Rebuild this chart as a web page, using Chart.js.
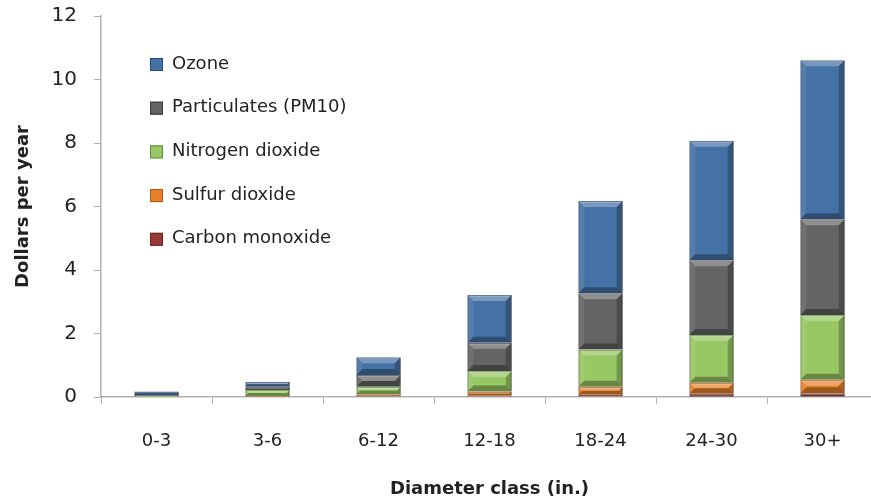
<!DOCTYPE html>
<html>
<head>
<meta charset="utf-8">
<script src="https://cdn.jsdelivr.net/npm/chart.js@4.4.0/dist/chart.umd.min.js"></script>
<style>
  body { margin: 0; background: #fff; overflow: hidden; }
  #wrap { width: 878px; height: 500px; }
</style>
</head>
<body>
<div id="wrap"><canvas id="myChart"></canvas></div>
<script>
// diameter classes on the x axis
const classes = ['0-3', '3-6', '6-12', '12-18', '18-24', '24-30', '30+'];

// dollars per year (bottom of stack first)
const carbonMonoxide = [0.0, 0.01, 0.02, 0.04, 0.07, 0.10, 0.12];
const sulfurDioxide = [0.01, 0.02, 0.07, 0.13, 0.25, 0.35, 0.42];
const nitrogenDioxide = [0.02, 0.19, 0.23, 0.65, 1.18, 1.50, 2.04];
const particulates = [0.03, 0.10, 0.37, 0.89, 1.77, 2.36, 3.02];
const ozone = [0.11, 0.16, 0.56, 1.50, 2.90, 3.76, 5.01];

const yTicks = [0, 2, 4, 6, 8, 10, 12];

const fontName = '"DejaVu Sans", sans-serif';

function mkSet(label, values, color, edge) {
    return {
        label: label,
        data: values,
        backgroundColor: color,
        borderColor: edge,
        borderWidth: 1.5,
        barPercentage: 0.4,
        categoryPercentage: 1.0
    };
}

const datasets = [
    mkSet('Carbon monoxide', carbonMonoxide, '#963a36', '#6b2522'),
    mkSet('Sulfur dioxide', sulfurDioxide, '#e8822a', '#a85a18'),
    mkSet('Nitrogen dioxide', nitrogenDioxide, '#98c863', '#5f8a36'),
    mkSet('Particulates (PM10)', particulates, '#646464', '#383838'),
    mkSet('Ozone', ozone, '#4572a6', '#284a72')
];

function quad(ctx, pts, style) {
    ctx.fillStyle = style;
    ctx.beginPath();
    ctx.moveTo(pts[0], pts[1]);
    for (let k = 2; k < pts.length; k += 2) ctx.lineTo(pts[k], pts[k + 1]);
    ctx.closePath();
    ctx.fill();
}

// excel-like bevel on each bar segment
const bevel = {
    id: 'bevel',
    afterDatasetsDraw(chart) {
        const ctx = chart.ctx;
        ctx.save();
        chart.data.datasets.forEach((ds, i) => {
            chart.getDatasetMeta(i).data.forEach(bar => {
                const l = bar.x - bar.width / 2, r = bar.x + bar.width / 2;
                const t = Math.min(bar.y, bar.base), b = Math.max(bar.y, bar.base);
                const h = b - t;
                if (h < 2) return;
                const e = Math.min(6, h / 2);
                quad(ctx, [l, t, r, t, r - e, t + e, l + e, t + e], 'rgba(255,255,255,0.28)');
                quad(ctx, [l, t, l + e, t + e, l + e, b - e, l, b], 'rgba(255,255,255,0.08)');
                quad(ctx, [r, t, r, b, r - e, b - e, r - e, t + e], 'rgba(0,0,0,0.25)');
                quad(ctx, [l, b, l + e, b - e, r - e, b - e, r, b], 'rgba(0,0,0,0.32)');
            });
        });
        ctx.restore();
    }
};

// legend drawn inside the plot, top item = top of stack
const insideLegend = {
    id: 'insideLegend',
    afterDraw(chart) {
        const ctx = chart.ctx;
        const sets = chart.data.datasets.slice().reverse();
        ctx.save();
        ctx.font = '18px ' + fontName;
        ctx.textBaseline = 'middle';
        for (let i = 0; i < sets.length; i++) {
            const y = 64 + i * 43.7;
            ctx.fillStyle = sets[i].backgroundColor;
            ctx.fillRect(150, y - 6, 13, 13);
            ctx.strokeStyle = sets[i].borderColor;
            ctx.lineWidth = 1;
            ctx.strokeRect(150.5, y - 5.5, 12, 12);
            ctx.fillStyle = '#222';
            ctx.fillText(sets[i].label, 172, y);
        }
        ctx.restore();
    }
};

const config = {
    type: 'bar',
    data: { labels: classes, datasets: datasets },
    options: {
        responsive: true,
        maintainAspectRatio: false,
        animation: false,
        layout: { padding: { left: 13, top: 16, right: 0, bottom: 0 } },
        plugins: {
            legend: { display: false },
            tooltip: { enabled: false }
        },
        scales: {
            x: {
                stacked: true,
                afterFit: (axis) => { axis.height = 103; },
                grid: { offset: true, drawOnChartArea: false, tickLength: 7, color: '#b0b0b0' },
                border: { color: '#b0b0b0', width: 1.5 },
                ticks: { color: '#222', font: { family: fontName, size: 18 }, padding: 27 },
                title: {
                    display: true,
                    text: 'Diameter class (in.)',
                    color: '#222',
                    font: { family: fontName, size: 18, weight: 'bold' },
                    padding: { top: 3, bottom: 0 }
                }
            },
            y: {
                stacked: true,
                min: 0,
                max: 12,
                afterBuildTicks: (axis) => { axis.ticks = yTicks.map(v => ({ value: v })); },
                afterFit: (axis) => { axis.paddingTop = 0; },
                grid: { drawOnChartArea: false, tickLength: 7, color: '#b0b0b0' },
                border: { color: '#b0b0b0', width: 1.5 },
                ticks: { color: '#222', font: { family: fontName, size: 20 }, padding: 17 },
                title: {
                    display: true,
                    text: 'Dollars per year',
                    color: '#222',
                    font: { family: fontName, size: 18, weight: 'bold' },
                    padding: { top: 0, bottom: 0 }
                }
            }
        }
    },
    plugins: [bevel, insideLegend]
};

const myChart = new Chart(document.getElementById('myChart'), config);
</script>
</body>
</html>
